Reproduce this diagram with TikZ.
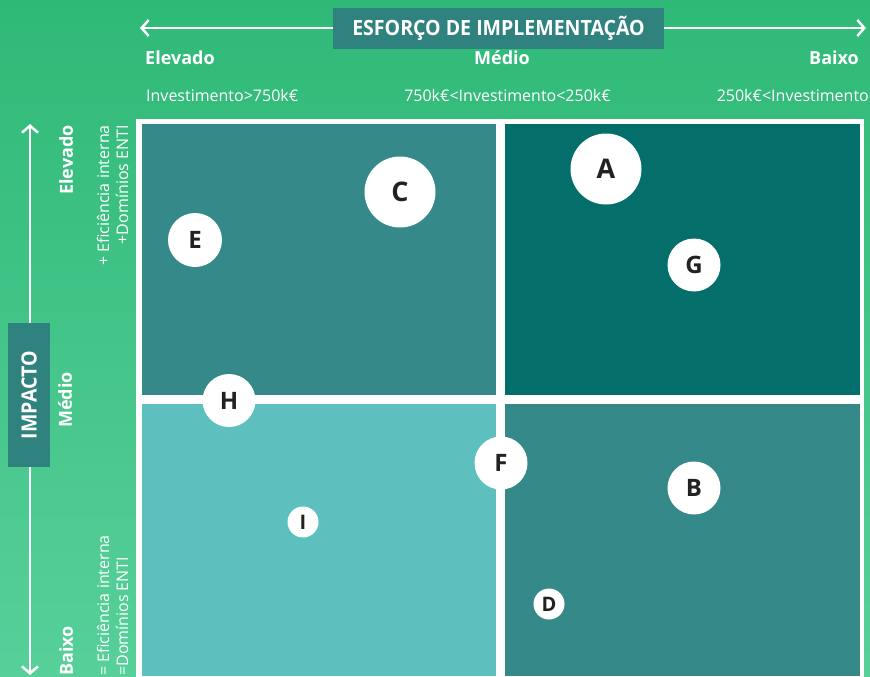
\documentclass[tikz,border=0pt]{standalone}
\usepackage{fontspec}
\setmainfont{Open Sans}
\newfontfamily\hdrfont[FakeStretch=0.93]{Open Sans}
\usetikzlibrary{arrows.meta}
\definecolor{bgtop}{HTML}{2FB977}
\definecolor{bgbot}{HTML}{57D09A}
\definecolor{boxteal}{HTML}{30827F}
\definecolor{qtl}{HTML}{358A89}
\definecolor{qtr}{HTML}{046E6B}
\definecolor{qbl}{HTML}{5DC0BF}
\definecolor{qbr}{HTML}{358A89}
\definecolor{letter}{HTML}{222222}
\begin{document}
\begin{tikzpicture}[x=1pt,y=-1pt,
  arr/.style={white, line width=2.5pt, {Straight Barb[length=7pt,width=16pt]}-{Straight Barb[length=7pt,width=16pt]}},
  tagbox/.style={fill=boxteal, text=white, inner sep=0pt, font=\hdrfont\bfseries\fontsize{21}{21}\selectfont},
  lbl/.style={text=white, inner sep=0pt, font=\bfseries\fontsize{18}{18}\selectfont},
  sub/.style={text=white, inner sep=0pt, font=\fontsize{16}{19}\selectfont},
  bub/.style={circle, fill=white, inner sep=0pt, text=letter},
  big/.style={bub, minimum size=71pt, font=\bfseries\fontsize{27}{27}\selectfont},
  mid/.style={bub, minimum size=53pt, font=\bfseries\fontsize{24}{24}\selectfont},
  sml/.style={bub, minimum size=31pt, font=\bfseries\fontsize{20}{20}\selectfont}]
\useasboundingbox (0,0) rectangle (870,677);
\shade[top color=bgtop,bottom color=bgbot] (0,0) rectangle (870,677);
% frame and quadrants
\fill[white] (136,119) rectangle (864,682);
\fill[qtl] (142,124) rectangle (496,395);
\fill[qtr] (505,124) rectangle (860,395);
\fill[qbl] (142,404) rectangle (496,676);
\fill[qbr] (505,404) rectangle (860,676);
% axes
\coordinate (hl) at (140,28);
\coordinate (hr) at (866,28);
\coordinate (vt) at (30,124);
\coordinate (vb) at (30,675);
\draw[arr] (hl) -- (hr);
\draw[arr] (vt) -- (vb);
\node[tagbox, minimum width=331pt, minimum height=41pt] (hbox) at (498.5,28.5) {ESFORÇO DE IMPLEMENTAÇÃO};
\node[tagbox, rotate=90, minimum width=144pt, minimum height=42pt] (vbox) at (29,395) {IMPACTO};
% top labels
\node[lbl, anchor=west] (tev) at (145,58) {Elevado};
\node[lbl] (tmd) at (502,58) {Médio};
\node[lbl, anchor=east] (tbx) at (859,58) {Baixo};
\node[sub, anchor=west] (ti1) at (146,95) {Investimento>750k€};
\node[sub] (ti2) at (507.5,95) {750k€<Investimento<250k€};
\node[sub, anchor=east] (ti3) at (869,95) {250k€<Investimento};
% left labels
\node[lbl, rotate=90, anchor=east] (lev) at (66,125) {Elevado};
\node[lbl, rotate=90] (lmd) at (65,400) {Médio};
\node[lbl, rotate=90, anchor=west] (lbx) at (66,676) {Baixo};
\node[sub, rotate=90, anchor=east, align=right] (lhi) at (112.5,125) {+ Eficiência interna\\+Domínios ENTI};
\node[sub, rotate=90, anchor=west, align=left] (llo) at (112.5,676) {= Eficiência interna\\=Domínios ENTI};
% bubbles
\node[big] (A) at (606,169) {A};
\node[big] (C) at (400,192) {C};
\node[mid, minimum size=54pt] (E) at (195,240) {E};
\node[mid] (G) at (694,265) {G};
\node[mid] (H) at (229,400.5) {H};
\node[mid] (F) at (501,463) {F};
\node[mid] (B) at (694,488) {B};
\node[sml] (I) at (303,522) {I};
\node[sml] (D) at (549,604) {D};
\end{tikzpicture}
\end{document}
